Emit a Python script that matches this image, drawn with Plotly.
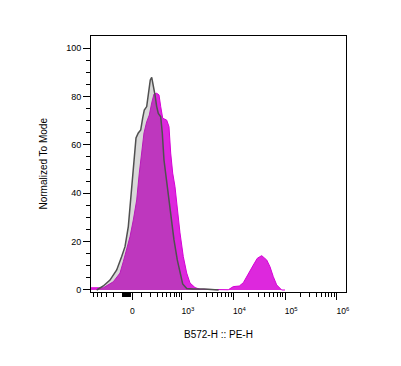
import numpy as np
import plotly.graph_objects as go

# ---- axis transform (biexponential-like, arcsinh) ----
W = 221.0
def T(v):
    return np.arcsinh(np.asarray(v, dtype=float) / W)

# ---- data (x in transformed display units, y = % of mode) ----
control_pos = [-1.569, -1.276, -0.978, -0.68, -0.458, -0.311, -0.164, -0.058, 0.031, 0.102,
               0.178, 0.28, 0.387, 0.476, 0.547, 0.653, 0.742, 0.813, 0.876, 0.947,
               1.022, 1.098, 1.169, 1.276, 1.347, 1.422, 1.511, 1.613, 1.72, 1.867,
               2.013, 2.133, 2.253, 2.431, 2.711, 3.2, 3.778, 3.85]
control_mode = [0.0, 1.65, 4.1, 8.3, 13.8, 17.9, 26.2, 37.2, 48.3, 56.6,
                62.8, 64.9, 66.1, 71.1, 74.4, 75.8, 81.4, 86.8, 87.9, 84.7,
                80.6, 75.8, 73.0, 71.6, 64.9, 53.7, 46.8, 40.1, 30.3, 20.7,
                12.4, 7.0, 2.5, 0.6, 0.4, 0.4, 0.3, 0.0]

stained_pos = [-1.83, -1.6, -1.276, -0.831, -0.533, -0.387, -0.236, -0.089, 0.058, 0.209,
               0.324, 0.431, 0.533, 0.653, 0.769, 0.876, 0.978, 1.098, 1.2, 1.276,
               1.364, 1.542, 1.644, 1.72, 1.809, 1.911, 2.013, 2.133, 2.28, 2.431,
               2.578, 2.8, 3.022, 3.467, 3.778, 4.058, 4.28, 4.502, 4.769, 4.947,
               5.169, 5.391, 5.569, 5.764, 5.987, 6.133, 6.28, 6.431, 6.653, 6.8]
stained_mode = [0.9, 0.8, 0.9, 3.4, 7.0, 11.7, 16.5, 22.0, 28.9, 37.2,
                48.3, 56.6, 64.9, 69.5, 72.3, 77.3, 81.0, 81.3, 80.6, 75.8,
                71.0, 70.2, 67.5, 56.6, 48.3, 42.7, 33.1, 23.6, 13.8, 7.0,
                2.9, 1.0, 0.3, 0.2, 0.2, 0.0, 0.1, 1.4, 1.65, 3.0,
                6.9, 10.3, 13.1, 14.2, 12.4, 9.6, 5.5, 2.1, 0.0, 0.0]

x_major_vals = [0, 1e3, 1e4, 1e5, 1e6]
x_major_text = ["", "10<sup>3</sup>", "10<sup>4</sup>", "10<sup>5</sup>", "10<sup>6</sup>"]
x_zero_label = "0"
x_minor_vals = ([-v for v in range(100, 700, 100)] + [-v for v in range(10, 100, 10)]
                + list(range(100, 1000, 100))
                + [m * 10 ** e for e in (3, 4, 5) for m in range(2, 10)])
y_major_vals = [0, 20, 40, 60, 80, 100]

FONT = "Liberation Sans, Arial, sans-serif"

fig = go.Figure()
fig.add_trace(go.Scatter(
    x=stained_pos, y=stained_mode, mode="lines", fill="tozeroy",
    fillcolor="rgb(221,40,221)", line=dict(color="rgb(214,0,214)", width=1),
    hoverinfo="skip", showlegend=False))
fig.add_trace(go.Scatter(
    x=control_pos, y=control_mode, mode="lines", fill="tozeroy",
    fillcolor="rgba(100,100,100,0.25)", line=dict(color="rgb(80,80,80)", width=1.5),
    hoverinfo="skip", showlegend=False))

fig.update_layout(
    width=385, height=350,
    margin=dict(l=83, r=47, t=28, b=66),
    paper_bgcolor="white", plot_bgcolor="white",
    font=dict(family=FONT, size=9, color="black"),
    xaxis=dict(
        range=[-1.822, 9.511], showgrid=False, zeroline=False,
        showline=True, linecolor="black", linewidth=1, mirror=True,
        tickmode="array", tickvals=list(T(x_major_vals)), ticktext=x_major_text,
        ticks="outside", ticklen=7, tickwidth=1.3, tickcolor="black",
        tickfont=dict(size=8.5, family=FONT),
        ticklabelshift=6, ticklabelstandoff=4,
        minor=dict(tickmode="array", tickvals=list(T(x_minor_vals)),
                   ticks="outside", ticklen=4, tickwidth=1, tickcolor="black", showgrid=False),
    ),
    yaxis=dict(
        range=[-0.83, 104.96], showgrid=False, zeroline=False,
        showline=True, linecolor="black", linewidth=1, mirror=True,
        tickmode="array", tickvals=y_major_vals,
        ticks="outside", ticklen=7, tickwidth=1.3, tickcolor="black",
        tickfont=dict(size=9, family=FONT),
        minor=dict(dtick=5, tick0=0, ticks="outside", ticklen=4, tickwidth=1,
                   tickcolor="black", showgrid=False),
    ),
    annotations=[
        dict(text=x_zero_label, xref="x", yref="paper", x=float(T(0)), y=-0.074,
             xanchor="center", yanchor="middle", showarrow=False,
             font=dict(size=8.5, family=FONT)),
        dict(text="B572-H :: PE-H", xref="paper", yref="paper", x=0.5, y=-0.165,
             xanchor="center", yanchor="middle", showarrow=False,
             font=dict(size=10, family=FONT)),
        dict(text="Normalized To Mode", xref="paper", yref="paper", x=-0.19, y=0.5,
             xanchor="center", yanchor="middle", textangle=-90, showarrow=False,
             font=dict(size=10, family=FONT)),
    ],
)

fig.write_html("out.html")
